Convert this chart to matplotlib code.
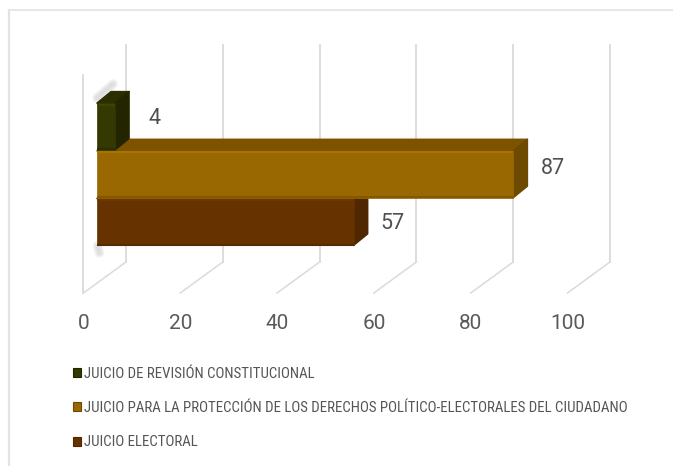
import matplotlib
matplotlib.use('Agg')
from matplotlib import pyplot as plt
from matplotlib.patches import Patch, Polygon

labels = ['JUICIO DE REVISIÓN CONSTITUCIONAL',
          'JUICIO PARA LA PROTECCIÓN DE LOS DERECHOS POLÍTICO-ELECTORALES DEL CIUDADANO',
          'JUICIO ELECTORAL']
values = [4, 87, 57]
# how far the bars really reach against the axis in the picture (labels say otherwise)
drawn = [3.7, 86, 53]
ticks = [0, 20, 40, 60, 80, 100]
front_colors = ['#333900', '#9a6800', '#653200']
top_colors = ['#2b2e00', '#7d5300', '#5a2d00']
side_colors = ['#232500', '#6e4a00', '#4f2700']
light_colors = ['#3d4400', '#a97300', '#6e3700']
dark_colors = ['#2a2e00', '#845800', '#572b00']

fig = plt.figure(figsize=(6.73, 4.66), dpi=100)
ax = fig.add_axes([0, 0, 1, 1])
ax.set_xlim(-17.25, 121.8)
ax.set_ylim(7.117, -2.652)
ax.axis('off')

fw = 2.9      # bar depth, x
fh = -0.24    # bar depth, y
x0 = 2.8      # front face start
back = 8.78   # back wall offset
h = 0.49

# outer frame, only left and top
frame = '#e3e3e3'
ax.plot([-15.4, -15.4], [7.2, -2.45], color=frame, lw=1.6)
ax.plot([-15.4, 122], [-2.45, -2.45], color=frame, lw=1.2)

# grid
grid = '#dadada'
for t in ticks:
    ax.plot([t + back, t + back], [-1.71, 2.84], color=grid, lw=1.3)
    ax.plot([t, t + back], [3.49, 2.84], color=grid, lw=1.1)
    ax.text(t, 4.12, str(t), ha='center', va='center', fontsize=15,
            color='#5a5a5a', family='Roboto')
ax.plot([0, 0], [-1.08, 3.49], color=grid, lw=1.3)

# soft shadow behind the bars
for w in [7, 5, 3]:
    ax.plot([x0, x0 + 3.3], [-0.6, -0.89], color='#a0a0a0', alpha=0.12, lw=w,
            solid_capstyle='round', zorder=2)
    ax.plot([x0 + 0.1, x0 + 0.5], [2.5, 2.65], color='#a0a0a0', alpha=0.12, lw=w,
            solid_capstyle='round', zorder=2)

order = [2, 1, 0]
label_dy = [-0.17, -0.11, 0.04]
for i in order:
    x1 = x0 + drawn[i]
    ytop = i - h
    ybot = i + h
    z = 3 + order.index(i)
    ax.add_patch(Polygon([(x0, ytop), (x0 + fw, ytop + fh), (x1 + fw, ytop + fh), (x1, ytop)],
                         fc=top_colors[i], ec=top_colors[i], lw=1.2, joinstyle='round', zorder=z))
    ax.add_patch(Polygon([(x1, ytop), (x1 + fw, ytop + fh), (x1 + fw, ybot + fh), (x1, ybot)],
                         fc=side_colors[i], ec=side_colors[i], lw=1.2, joinstyle='round', zorder=z))
    ax.add_patch(Polygon([(x0, ytop), (x1, ytop), (x1, ybot), (x0, ybot)],
                         fc=front_colors[i], ec=front_colors[i], lw=0.5, zorder=z + 0.1))
    ax.plot([x0, x1], [ytop + 0.03, ytop + 0.03], color=light_colors[i], lw=1.5,
            solid_capstyle='butt', zorder=z + 0.2)
    ax.plot([x0, x1], [ybot - 0.01, ybot - 0.01], color=dark_colors[i], lw=1.5,
            solid_capstyle='butt', zorder=z + 0.2)
    ax.text(x1 + fw + 5.2, i + label_dy[i], str(values[i]), ha='center', va='center', fontsize=15.5,
            color='#505050', family='Roboto', zorder=8)

handles = [Patch(fc=front_colors[i], ec=side_colors[i], lw=0.8, label=labels[i]) for i in range(3)]
ax.legend(handles=handles, loc='upper left', bbox_to_anchor=(67 / 673, 1 - 361 / 466),
          bbox_transform=fig.transFigure, frameon=False, labelspacing=1.35,
          handlelength=0.55, handleheight=0.55, handletextpad=0.2, borderpad=0.4, borderaxespad=0,
          labelcolor='#555555', prop={'family': ['Roboto Condensed', 'Liberation Sans'], 'size': 10.75})

fig.savefig('out.png', dpi=100)
